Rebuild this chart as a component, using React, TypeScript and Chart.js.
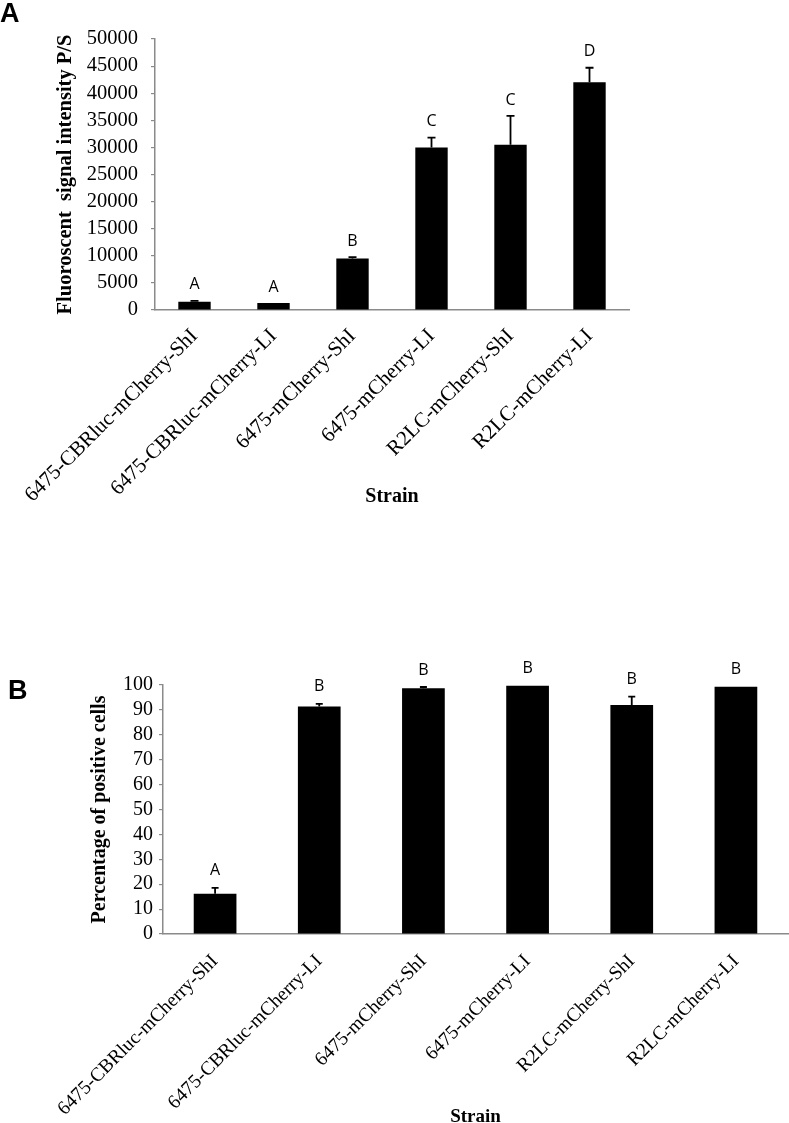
import React, { useEffect, useRef } from "react";
import { Chart, registerables } from "chart.js";

Chart.register(...registerables);

const strains = [
  "6475-CBRluc-mCherry-ShI",
  "6475-CBRluc-mCherry-LI",
  "6475-mCherry-ShI",
  "6475-mCherry-LI",
  "R2LC-mCherry-ShI",
  "R2LC-mCherry-LI",
];

const signalValues = [1500, 1300, 9500, 30000, 30500, 42000];
const signalErrors = [200, 0, 250, 1800, 5300, 2700];
const signalLetters = ["A", "A", "B", "C", "C", "D"];

const percentValues = [16.2, 91.4, 98.7, 99.7, 92.0, 99.3];
const percentErrors = [2.3, 1.0, 0.5, 0, 3.3, 0];
const percentLetters = ["A", "B", "B", "B", "B", "B"];

const SERIF = "'Liberation Serif', 'Times New Roman', serif";
const SANS = "'Open Sans', 'Liberation Sans', sans-serif";
const AXIS_GRAY = "#8a8a8a";

type PanelCfg = {
  values: number[];
  errors: number[];
  letters: string[];
  yMax: number;
  yStep: number;
  yTitle: string;
  yTitlePad: number;
  yTitleSize: number;
  tickSize: number;
  tickPad: number;
  xLabelSize: number;
  xLabelPad: number;
  xTitleSize: number;
  xTitlePadBottom: number;
  padTop: number;
  padRight: number;
  yAxisWidth: number;
  xAxisHeight: number;
  capHalf: number;
  letterGap: number;
};

function makeChart(canvas: HTMLCanvasElement, cfg: PanelCfg) {
  const errPlugin = {
    id: "errbars",
    afterDatasetsDraw(chart: any) {
      const ctx = chart.ctx;
      const xs = chart.scales.x;
      const ys = chart.scales.y;
      ctx.save();
      cfg.values.forEach((v, i) => {
        const x = xs.getPixelForValue(i);
        const yv = ys.getPixelForValue(v);
        const ye = ys.getPixelForValue(v + cfg.errors[i]);
        if (cfg.errors[i] > 0) {
          ctx.strokeStyle = "#000";
          ctx.lineWidth = 1.8;
          ctx.beginPath();
          ctx.moveTo(x, yv);
          ctx.lineTo(x, ye);
          ctx.moveTo(x - cfg.capHalf, ye);
          ctx.lineTo(x + cfg.capHalf, ye);
          ctx.stroke();
        }
        ctx.fillStyle = "#000";
        ctx.font = `16px ${SANS}`;
        ctx.textAlign = "center";
        ctx.textBaseline = "middle";
        ctx.fillText(cfg.letters[i], x, ye - cfg.letterGap);
      });
      ctx.restore();
    },
  };

  return new Chart(canvas, {
    type: "bar",
    data: {
      labels: strains,
      datasets: [
        {
          data: cfg.values,
          backgroundColor: "#000",
          borderWidth: 0,
          barPercentage: 0.41,
          categoryPercentage: 1,
        },
      ],
    },
    options: {
      animation: false,
      responsive: false,
      maintainAspectRatio: false,
      events: [],
      layout: {
        padding: { top: cfg.padTop, right: cfg.padRight, left: 0, bottom: 0 },
      },
      plugins: {
        legend: { display: false },
        tooltip: { enabled: false },
        title: { display: false },
      },
      scales: {
        x: {
          type: "category",
          offset: true,
          grid: { display: false, drawTicks: false },
          border: { display: true, color: AXIS_GRAY, width: 1.5 },
          ticks: {
            autoSkip: false,
            minRotation: 45,
            maxRotation: 45,
            padding: cfg.xLabelPad,
            color: "#000",
            font: { family: SERIF, size: cfg.xLabelSize },
          },
          title: {
            display: true,
            text: "Strain",
            color: "#000",
            font: { family: SERIF, size: cfg.xTitleSize, weight: "bold" },
            padding: { top: 0, bottom: cfg.xTitlePadBottom },
          },
          afterFit: (s: any) => {
            s.height = cfg.xAxisHeight;
          },
        },
        y: {
          min: 0,
          max: cfg.yMax,
          grid: {
            display: true,
            drawOnChartArea: false,
            drawTicks: true,
            tickLength: 4,
            color: AXIS_GRAY,
            lineWidth: 1.2,
          },
          border: { display: true, color: AXIS_GRAY, width: 1.5 },
          ticks: {
            stepSize: cfg.yStep,
            autoSkip: false,
            padding: cfg.tickPad,
            color: "#000",
            font: { family: SERIF, size: cfg.tickSize, lineHeight: 1 },
            callback: (v: any) => String(v),
          },
          title: {
            display: true,
            text: cfg.yTitle,
            color: "#000",
            font: { family: SERIF, size: cfg.yTitleSize, weight: "bold" },
            padding: { top: cfg.yTitlePad, bottom: 0 },
          },
          afterFit: (s: any) => {
            s.width = cfg.yAxisWidth;
          },
        },
      },
    },
    plugins: [errPlugin],
  } as any);
}

function Panel(props: { cfg: PanelCfg; top: number; height: number }) {
  const ref = useRef<HTMLCanvasElement>(null);
  useEffect(() => {
    if (!ref.current) return;
    const ch = makeChart(ref.current, props.cfg);
    return () => ch.destroy();
  }, []);
  return (
    <canvas
      ref={ref}
      width={789}
      height={props.height}
      style={{ position: "absolute", left: 0, top: props.top, width: 789, height: props.height }}
    />
  );
}

const cfgA: PanelCfg = {
  values: signalValues,
  errors: signalErrors,
  letters: signalLetters,
  yMax: 50000,
  yStep: 5000,
  yTitle: "Fluoroscent  signal intensity P/S",
  yTitlePad: 53,
  yTitleSize: 20.5,
  tickSize: 20.5,
  tickPad: 13,
  xLabelSize: 21,
  xLabelPad: 14,
  xTitleSize: 20,
  xTitlePadBottom: 11,
  padTop: 39,
  padRight: 160,
  yAxisWidth: 155,
  xAxisHeight: 210,
  capHalf: 4,
  letterGap: 16,
};

const cfgB: PanelCfg = {
  values: percentValues,
  errors: percentErrors,
  letters: percentLetters,
  yMax: 100,
  yStep: 10,
  yTitle: "Percentage of positive cells",
  yTitlePad: 88,
  yTitleSize: 20,
  tickSize: 20,
  tickPad: 6,
  xLabelSize: 19.5,
  xLabelPad: 16,
  xTitleSize: 19,
  xTitlePadBottom: -5,
  padTop: 165,
  padRight: 1,
  yAxisWidth: 163,
  xAxisHeight: 189,
  capHalf: 3.5,
  letterGap: 17,
};

export default function App() {
  const letterStyle: React.CSSProperties = {
    position: "absolute",
    left: 0,
    fontFamily: "'Liberation Sans', Arial, sans-serif",
    fontWeight: "bold",
    fontSize: 27,
    lineHeight: "28px",
    color: "#000",
  };
  return (
    <div
      style={{
        position: "absolute",
        left: 0,
        top: 0,
        width: 789,
        height: 1123,
        overflow: "hidden",
        background: "#fff",
      }}
    >
      <Panel cfg={cfgA} top={0} height={520} />
      <Panel cfg={cfgB} top={520} height={603} />
      <div style={{ ...letterStyle, top: -1 }}>A</div>
      <div style={{ ...letterStyle, top: 676, left: 8 }}>B</div>
    </div>
  );
}
